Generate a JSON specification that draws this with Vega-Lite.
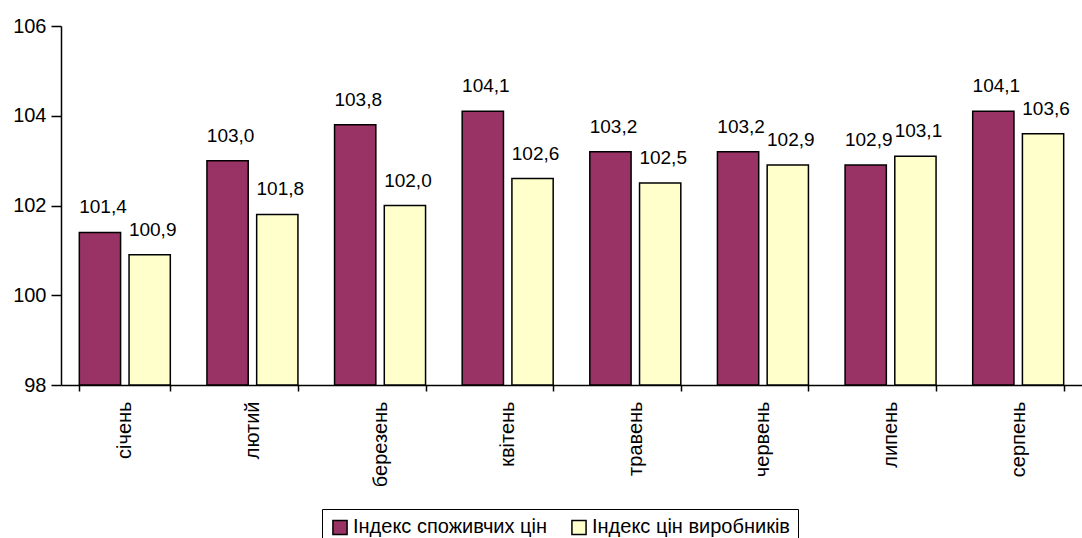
{
  "$schema": "https://vega.github.io/schema/vega-lite/v6.json",
  "autosize": "none",
  "width": 1021,
  "height": 359,
  "padding": {"left": 61, "top": 26, "right": 0, "bottom": 153},
  "config": {
    "view": {"stroke": null},
    "font": "Liberation Sans",
    "axis": {"labelFont": "Liberation Sans", "labelColor": "black", "domainColor": "black", "tickColor": "black", "domainWidth": 1.5, "tickWidth": 1.5, "grid": false}
  },
  "data": {
    "values": [
      {"month": "січень", "series": "Індекс споживчих цін", "value": 101.4, "label": "101,4"},
      {"month": "січень", "series": "Індекс цін виробників", "value": 100.9, "label": "100,9"},
      {"month": "лютий", "series": "Індекс споживчих цін", "value": 103.0, "label": "103,0"},
      {"month": "лютий", "series": "Індекс цін виробників", "value": 101.8, "label": "101,8"},
      {"month": "березень", "series": "Індекс споживчих цін", "value": 103.8, "label": "103,8"},
      {"month": "березень", "series": "Індекс цін виробників", "value": 102.0, "label": "102,0"},
      {"month": "квітень", "series": "Індекс споживчих цін", "value": 104.1, "label": "104,1"},
      {"month": "квітень", "series": "Індекс цін виробників", "value": 102.6, "label": "102,6"},
      {"month": "травень", "series": "Індекс споживчих цін", "value": 103.2, "label": "103,2"},
      {"month": "травень", "series": "Індекс цін виробників", "value": 102.5, "label": "102,5"},
      {"month": "червень", "series": "Індекс споживчих цін", "value": 103.2, "label": "103,2"},
      {"month": "червень", "series": "Індекс цін виробників", "value": 102.9, "label": "102,9"},
      {"month": "липень", "series": "Індекс споживчих цін", "value": 102.9, "label": "102,9"},
      {"month": "липень", "series": "Індекс цін виробників", "value": 103.1, "label": "103,1"},
      {"month": "серпень", "series": "Індекс споживчих цін", "value": 104.1, "label": "104,1"},
      {"month": "серпень", "series": "Індекс цін виробників", "value": 103.6, "label": "103,6"}
    ]
  },
  "encoding": {
    "x": {
      "field": "month", "type": "nominal",
      "sort": ["січень", "лютий", "березень", "квітень", "травень", "червень", "липень", "серпень"],
      "scale": {"paddingInner": 0.287, "paddingOuter": 0.1435},
      "axis": {"title": null, "labelAngle": 270, "labelAlign": "right", "labelBaseline": "middle", "labelFontSize": 20, "labelPadding": 10, "tickSize": 6, "tickBand": "extent", "labelLimit": 0}
    },
    "xOffset": {
      "field": "series", "type": "nominal",
      "scale": {"domain": ["Індекс споживчих цін", "Індекс цін виробників"], "paddingInner": 0.17}
    },
    "y": {
      "field": "value", "type": "quantitative",
      "scale": {"domain": [98, 106], "zero": false, "nice": false},
      "axis": {"title": null, "values": [98, 100, 102, 104, 106], "labelFontSize": 20, "tickSize": 10, "labelPadding": 5}
    }
  },
  "layer": [
    {
      "mark": {"type": "bar", "stroke": "black", "strokeWidth": 1.5},
      "encoding": {
        "y2": {"datum": 98},
        "color": {
          "field": "series", "type": "nominal",
          "scale": {"domain": ["Індекс споживчих цін", "Індекс цін виробників"], "range": ["#993366", "#FFFFCC"]},
          "legend": {
            "title": null, "orient": "none", "legendX": 261, "legendY": 483, "direction": "horizontal",
            "symbolType": "square", "symbolSize": 200, "symbolStrokeColor": "black", "symbolStrokeWidth": 1.5,
            "labelFontSize": 20, "labelFont": "Liberation Sans", "labelColor": "black", "labelOffset": 3, "labelLimit": 0,
            "columnPadding": 20, "padding": 8, "strokeColor": "black", "fillColor": "white"
          }
        }
      }
    },
    {
      "mark": {"type": "text", "fontSize": 19, "baseline": "alphabetic", "dy": -19, "dx": 3, "color": "black"},
      "encoding": {"text": {"field": "label"}}
    }
  ]
}
